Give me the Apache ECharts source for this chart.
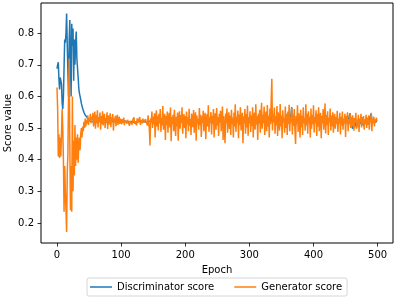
<!DOCTYPE html>
<html>
<head>
<meta charset="utf-8">
<script src="https://cdn.jsdelivr.net/npm/echarts@6/dist/echarts.min.js"></script>
<style>html,body{margin:0;padding:0;background:#fff}#c{width:399px;height:300px}</style>
</head>
<body>
<div id="c"></div>
<script>
const seriesNames = ['Discriminator score', 'Generator score'];
const xTicks = [0, 100, 200, 300, 400, 500];
const yTicks = [0.2, 0.3, 0.4, 0.5, 0.6, 0.7, 0.8];

const discriminatorScore = [
 // 0-55
 .688,.700,.708,.655,.622,.660,.665,.640,.580,.560,.600,.690,.780,.770,.800,.862,.760,.680,.600,.780,
 .842,.700,.600,.830,.760,.815,.650,.780,.700,.770,.805,.720,.690,.660,.625,.610,.600,.590,.578,.570,
 .562,.556,.550,.546,.541,.538,.535,.533,.531,.528,.527,.525,.524,.522,.523,.521,
 // 56-99
 .522,.520,.524,.519,.521,.523,.518,.522,.520,.525,.519,.521,.523,.517,.522,.520,.524,.518,.521,.523,
 .519,.522,.520,.516,.523,.521,.518,.524,.520,.519,.522,.517,.521,.523,.519,.520,.525,.518,.521,.522,.519,.520,.523,.518,
 // 100-139
 .520,.522,.518,.521,.519,.523,.520,.517,.522,.520,.521,.518,.524,.519,.520,.522,.518,.521,.519,.523,
 .520,.517,.522,.520,.518,.521,.523,.519,.520,.522,.518,.521,.519,.520,.524,.518,.521,.520,.522,.519,
 // 140-199
 .521,.518,.524,.519,.515,.522,.520,.517,.525,.519,.521,.516,.523,.520,.518,.526,.519,.521,.514,.522,
 .520,.527,.518,.521,.516,.524,.519,.522,.520,.513,.523,.519,.525,.517,.521,.522,.518,.528,.515,.521,
 .519,.523,.517,.526,.520,.516,.522,.519,.524,.514,.521,.525,.518,.522,.520,.527,.516,.521,.523,.518,
 // 200-259
 .522,.516,.525,.519,.521,.517,.526,.520,.522,.515,.524,.519,.518,.527,.516,.521,.524,.514,.522,.520,
 .521,.517,.528,.519,.523,.515,.522,.520,.526,.517,.521,.524,.513,.520,.523,.518,.529,.516,.522,.519,
 .525,.515,.521,.519,.527,.514,.522,.524,.517,.528,.519,.521,.515,.524,.520,.526,.516,.521,.529,.513,
 // 260-329
 .522,.518,.512,.525,.520,.530,.516,.521,.527,.517,.523,.514,.529,.519,.522,.513,.526,.518,.533,.516,
 .522,.520,.528,.514,.524,.519,.531,.516,.521,.526,.510,.522,.519,.530,.515,.524,.518,.534,.514,.522,
 .519,.528,.515,.523,.518,.532,.513,.521,.527,.517,.535,.519,.523,.511,.525,.520,.529,.516,.521,.536,
 .517,.524,.520,.531,.514,.522,.527,.516,.534,.519,
 // 330-339
 .523,.515,.529,.520,.540,.548,.518,.525,.521,.528,
 // 340-399
 .516,.523,.519,.530,.514,.526,.521,.517,.533,.519,.524,.513,.529,.520,.522,.515,.531,.518,.525,.514,
 .527,.519,.534,.517,.522,.545,.566,.516,.524,.518,.530,.515,.508,.522,.520,.533,.516,.526,.521,.512,
 .529,.518,.523,.514,.532,.520,.522,.516,.534,.519,.525,.513,.528,.521,.523,.512,.530,.517,.524,.520,
 // 400-439
 .533,.515,.522,.520,.529,.513,.525,.518,.531,.516,.521,.526,.512,.523,.520,.530,.517,.522,.535,.515,
 .524,.519,.528,.514,.522,.520,.530,.516,.523,.518,.527,.514,.521,.525,.517,.522,.519,.529,.515,.521,
 // 440-499
 .520,.526,.514,.523,.518,.528,.515,.521,.519,.527,.512,.522,.520,.530,.514,.532,.540,.547,.528,.515,
 .505,.498,.510,.502,.515,.506,.520,.500,.512,.508,.522,.504,.516,.511,.525,.509,.518,.513,.521,.507,
 .517,.515,.524,.510,.520,.513,.526,.512,.535,.540,.546,.525,.518,.514,.522,.512,.519,.520,.523,.521
];

const generatorScore = [
 // 0-55
 .628,.560,.410,.480,.405,.470,.410,.480,.560,.500,.400,.235,.380,.300,.240,.171,.360,.420,.600,.720,
 .450,.240,.380,.235,.600,.300,.460,.350,.510,.380,.470,.400,.480,.390,.450,.470,.430,.480,.500,.470,
 .505,.490,.520,.500,.530,.505,.525,.515,.540,.510,.530,.520,.545,.515,.535,.525,
 // 56-99
 .548,.505,.530,.552,.498,.541,.515,.556,.502,.535,.520,.549,.495,.538,.512,.553,.508,.529,.545,.500,
 .532,.518,.550,.497,.540,.511,.526,.547,.503,.534,.522,.544,.492,.531,.517,.539,.506,.528,.542,.510,.524,.536,.513,.530,
 // 100-139
 .521,.512,.528,.516,.533,.509,.524,.518,.530,.514,.526,.520,.532,.507,.523,.517,.529,.511,.525,.519,
 .534,.513,.522,.527,.508,.531,.516,.524,.519,.535,.510,.526,.521,.515,.530,.518,.523,.512,.528,.520,
 // 140-199
 .525,.508,.540,.515,.498,.445,.530,.518,.552,.500,.536,.512,.547,.470,.528,.556,.505,.539,.492,.545,
 .515,.560,.488,.532,.508,.570,.495,.527,.545,.462,.538,.510,.552,.485,.530,.548,.502,.565,.458,.535,
 .512,.542,.490,.558,.520,.475,.536,.505,.549,.460,.530,.553,.498,.541,.515,.566,.482,.527,.544,.500,
 // 200-259
 .538,.468,.552,.512,.534,.490,.561,.507,.529,.478,.546,.521,.503,.557,.485,.533,.550,.460,.540,.515,
 .528,.495,.563,.510,.542,.472,.537,.518,.555,.490,.531,.548,.465,.526,.544,.505,.572,.488,.534,.519,
 .551,.480,.539,.512,.560,.470,.532,.547,.495,.563,.508,.535,.475,.545,.520,.555,.490,.530,.568,.462,
 // 260-329
 .538,.503,.452,.546,.515,.562,.485,.531,.550,.497,.540,.478,.558,.512,.533,.470,.549,.505,.575,.488,
 .536,.520,.555,.468,.543,.510,.566,.492,.529,.548,.452,.537,.515,.560,.482,.544,.502,.571,.476,.535,
 .518,.553,.488,.540,.507,.566,.470,.532,.549,.495,.575,.511,.538,.462,.545,.520,.558,.485,.531,.580,
 .498,.542,.515,.568,.478,.536,.552,.490,.573,.505,
 // 330-339
 .540,.470,.562,.512,.588,.656,.492,.545,.520,.565,
 // 340-399
 .482,.538,.508,.570,.475,.550,.525,.492,.576,.505,.540,.468,.556,.518,.532,.485,.568,.500,.545,.478,
 .552,.512,.574,.490,.536,.522,.565,.480,.543,.507,.560,.495,.450,.538,.515,.572,.488,.547,.526,.470,
 .558,.503,.539,.478,.566,.515,.530,.492,.575,.508,.545,.482,.553,.520,.536,.470,.562,.498,.541,.512,
 // 400-439
 .572,.486,.535,.520,.556,.475,.544,.505,.566,.490,.530,.548,.468,.538,.515,.560,.495,.527,.578,.483,
 .542,.510,.553,.478,.533,.520,.562,.492,.540,.505,.550,.485,.528,.545,.498,.535,.512,.555,.488,.530,
 // 440-499
 .518,.548,.480,.536,.508,.552,.495,.530,.515,.545,.472,.538,.520,.550,.490,.528,.512,.547,.500,.535,
 .505,.540,.518,.492,.532,.523,.548,.498,.527,.510,.542,.488,.530,.520,.545,.502,.535,.512,.538,.495,
 .528,.516,.542,.500,.533,.510,.540,.495,.526,.518,.548,.490,.530,.515,.536,.505,.528,.520,.533,.522
];

const font = 'DejaVu Sans';
const chart = echarts.init(document.getElementById('c'), null, {renderer: 'canvas'});
chart.setOption({
  animation: false,
  backgroundColor: '#fff',
  textStyle: {fontFamily: font},
  grid: {left: 41, right: 6, top: 3, bottom: 57, containLabel: false, outerBoundsMode: 'none',
         show: true, borderColor: '#000', borderWidth: 1, backgroundColor: 'transparent'},
  xAxis: {
    type: 'value', min: -24.95, max: 523.95,
    name: 'Epoch', nameLocation: 'middle', nameGap: 22, nameMoveOverlap: false,
    nameTextStyle: {fontSize: 10, color: '#000', fontFamily: font},
    axisLine: {show: false, onZero: false},
    axisTick: {show: true, inside: false, length: 3.5, lineStyle: {color: '#000', width: 0.8}, customValues: xTicks},
    axisLabel: {fontSize: 10, color: '#000', fontFamily: font, margin: 7, customValues: xTicks, formatter: v => String(v)},
    splitLine: {show: false}
  },
  yAxis: {
    type: 'value', min: 0.1365, max: 0.8955,
    name: 'Score value', nameLocation: 'middle', nameGap: 28, nameRotate: 90, nameMoveOverlap: false,
    nameTextStyle: {fontSize: 10, color: '#000', fontFamily: font},
    axisLine: {show: false, onZero: false},
    axisTick: {show: true, inside: false, length: 3.5, lineStyle: {color: '#000', width: 0.8}, customValues: yTicks},
    axisLabel: {fontSize: 10, color: '#000', fontFamily: font, margin: 7, customValues: yTicks, formatter: v => v.toFixed(1)},
    splitLine: {show: false}
  },
  legend: {
    left: 87, top: 278,
    data: seriesNames,
    icon: 'rect', itemWidth: 22, itemHeight: 1.5, itemGap: 20,
    padding: [4, 5, 4, 3],
    borderColor: '#d6d6d6', borderWidth: 1, borderRadius: 2,
    textStyle: {fontSize: 10, color: '#000', fontFamily: font}
  },
  series: [
    {name: seriesNames[0], type: 'line', showSymbol: false, color: '#1f77b4',
     lineStyle: {width: 1.5, color: '#1f77b4'},
     data: discriminatorScore.map((v, i) => [i, v])},
    {name: seriesNames[1], type: 'line', showSymbol: false, color: '#ff7f0e',
     lineStyle: {width: 1.5, color: '#ff7f0e'},
     data: generatorScore.map((v, i) => [i, v])}
  ]
});
</script>
</body>
</html>
